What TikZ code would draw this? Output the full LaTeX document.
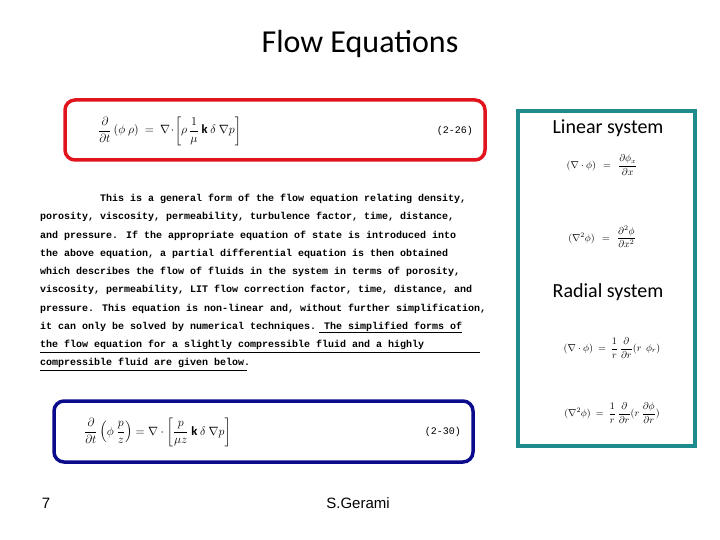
\documentclass[tikz,border=0pt]{standalone}
\usepackage{amsmath}
\usepackage{fontspec}
\setmainfont{Carlito}
\newfontfamily\monof{Liberation Mono}
\newfontfamily\arialf{Liberation Sans}
\definecolor{redb}{RGB}{225,20,30}
\definecolor{tealb}{RGB}{30,140,140}
\definecolor{navyb}{RGB}{10,10,140}
\tikzset{
  plain/.style={inner sep=0pt},
  para/.style={inner sep=0pt, anchor=base west, font=\monof\bfseries\fontsize{10}{12}\selectfont},
  eq/.style={inner sep=0pt, font=\fontsize{12.6}{15}\selectfont},
  eqs/.style={inner sep=0pt, font=\fontsize{9.8}{11}\selectfont},
  frame/.style={line width=3.5pt, rounded corners=10pt}
}
\begin{document}
\begin{tikzpicture}[x=1pt,y=-1pt]
\useasboundingbox[fill=white] (0,0) rectangle (720,540);
\node[plain, font=\fontsize{32}{36}\selectfont] (title) at (360,44) {Flow Equations};
% red box
\draw[frame, redb] (65,100) rectangle (485,160);
\node[eq, anchor=west] (e1) at (98,131) {$\dfrac{\partial}{\partial t}\,(\phi\ \rho)\ =\ \nabla\!\cdot\!\left[\rho\,\dfrac{1}{\mu}\ \mathbf{k}\ \delta\ \nabla p\right]$};
\node[eq, anchor=east, font=\monof\fontsize{10}{12}\selectfont] (n1) at (473,131) {(2-26)};
% paragraph
\node[para] (l1) at (100,202) {This is a general form of the flow equation relating density,};
\node[para] (l2) at (40,220) {porosity, viscosity, permeability, turbulence factor, time, distance,};
\node[para] (l3) at (40,238) {and pressure. If the appropriate equation of state is introduced into};
\node[para] (l4) at (40,256) {the above equation, a partial differential equation is then obtained};
\node[para] (l5) at (40,274) {which describes the flow of fluids in the system in terms of porosity,};
\node[para] (l6) at (40,292) {viscosity, permeability, LIT flow correction factor, time, distance, and};
\node[para] (l7) at (40,311) {pressure. This equation is non-linear and, without further simplification,};
\node[para] (l8) at (40,329) {it can only be solved by numerical techniques. The simplified forms of};
\node[para] (l9) at (40,347) {the flow equation for a slightly compressible fluid and a highly};
\node[para] (l10) at (40,365) {compressible fluid are given below.};
\draw[line width=0.6pt] (l8.base east) ++(-143,3) -- ++(143,0);
\draw[line width=0.6pt] (40,352) -- (480,352);
\draw[line width=0.6pt] (40,370) -- (247,370);
% blue box
\draw[frame, navyb] (54,401) rectangle (473,462);
\node[eq, anchor=west] (e2) at (84,432) {$\dfrac{\partial}{\partial t}\left(\phi\ \dfrac{p}{z}\right)=\nabla\cdot\left[\dfrac{p}{\mu z}\ \mathbf{k}\ \delta\ \nabla p\right]$};
\node[eq, anchor=east, font=\monof\fontsize{10}{12}\selectfont] (n2) at (461,432) {(2-30)};
% teal panel
\draw[tealb, line width=3.5pt] (518,111) rectangle (695,446);
\node[plain, font=\fontsize{20}{22}\selectfont] (lin) at (608,128) {Linear system};
\node[eqs] (la) at (602,165) {$(\nabla\cdot\phi)\ \ =\ \ \dfrac{\partial\phi_x}{\partial x}$};
\node[eqs] (lb) at (602,237) {$(\nabla^2\phi)\ \ =\ \ \dfrac{\partial^2\phi}{\partial x^2}$};
\node[plain, font=\fontsize{20}{22}\selectfont] (rad) at (608,292) {Radial system};
\node[eqs] (ra) at (612,348) {$(\nabla\cdot\phi)\ =\ \dfrac{1}{r}\,\dfrac{\partial}{\partial r}(r\ \ \phi_r)$};
\node[eqs] (rb) at (612,413) {$(\nabla^2\phi)\ =\ \dfrac{1}{r}\,\dfrac{\partial}{\partial r}(r\ \dfrac{\partial\phi}{\partial r})$};
% footer
\node[plain, font=\arialf\fontsize{15}{17}\selectfont] (pg) at (46,503) {7};
\node[plain, font=\arialf\fontsize{15}{17}\selectfont] (au) at (358,503) {S.Gerami};
\end{tikzpicture}
\end{document}
